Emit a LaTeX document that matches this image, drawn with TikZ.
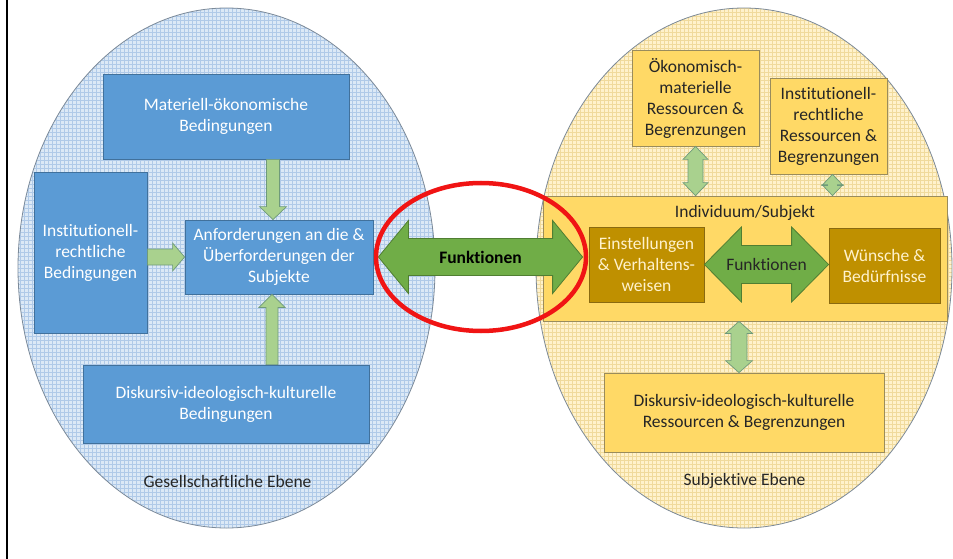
\documentclass[tikz,border=0pt]{standalone}
\usepackage{fontspec}
\setmainfont{Carlito}[Ligatures=NoCommon]
\usetikzlibrary{calc}

\definecolor{bluefill}{HTML}{5B9BD5}
\definecolor{blueline}{HTML}{41719C}
\definecolor{blueground}{HTML}{DCE9F6}
\definecolor{bluegrid}{HTML}{B0CAE8}
\definecolor{yellowfill}{HTML}{FFD966}
\definecolor{yellowline}{HTML}{9A8C5C}
\definecolor{yellowground}{HTML}{FFF2CC}
\definecolor{yellowgrid}{HTML}{F0DA9C}
\definecolor{goldfill}{HTML}{BF9000}
\definecolor{goldline}{HTML}{8A6A10}
\definecolor{greenfill}{HTML}{70AD47}
\definecolor{greenline}{HTML}{507E32}
\definecolor{palegreen}{HTML}{A9D18E}
\definecolor{palegreenline}{HTML}{6F9A7A}
\definecolor{ellline}{HTML}{7C8A99}
\definecolor{redring}{HTML}{F01414}
\definecolor{darktext}{HTML}{262626}

\newcommand\boxfont{\fontsize{17.5}{21}\selectfont}
\newcommand\blockarrow[6]{
  \coordinate (ba-t) at (#2) ;
  \coordinate (ba-h) at (#3) ;
  \coordinate (ba-c) at ($(ba-h)!#6pt!(ba-t)$) ;
  \draw[#1] ($(ba-t)!#4pt!90:(ba-h)$) -- ($(ba-c)!#4pt!90:(ba-h)$) -- ($(ba-c)!#5pt!90:(ba-h)$)
    -- (ba-h) -- ($(ba-c)!#5pt!-90:(ba-h)$) -- ($(ba-c)!#4pt!-90:(ba-h)$) -- ($(ba-t)!#4pt!-90:(ba-h)$) -- cycle ;
}
\newcommand\blockdarrow[6]{
  \coordinate (ba-t) at (#2) ;
  \coordinate (ba-h) at (#3) ;
  \coordinate (ba-c) at ($(ba-h)!#6pt!(ba-t)$) ;
  \coordinate (ba-d) at ($(ba-t)!#6pt!(ba-h)$) ;
  \draw[#1] (ba-t) -- ($(ba-d)!#5pt!90:(ba-h)$) -- ($(ba-d)!#4pt!90:(ba-h)$) -- ($(ba-c)!#4pt!90:(ba-h)$)
    -- ($(ba-c)!#5pt!90:(ba-h)$) -- (ba-h) -- ($(ba-c)!#5pt!-90:(ba-h)$) -- ($(ba-c)!#4pt!-90:(ba-h)$)
    -- ($(ba-d)!#4pt!-90:(ba-h)$) -- ($(ba-d)!#5pt!-90:(ba-h)$) -- cycle ;
}

\begin{document}
\begin{tikzpicture}[x=1pt, y=-1pt,
    bluebox/.style={draw=blueline, fill=bluefill, text=white, font=\boxfont, align=center, inner sep=0pt, line width=.8pt},
    yellowbox/.style={draw=yellowline, fill=yellowfill, text=darktext, font=\boxfont, align=center, inner sep=0pt, line width=.8pt},
    goldbox/.style={draw=goldline, fill=goldfill, text=yellowground, font=\boxfont, align=center, inner sep=0pt, line width=.8pt},
    smallarrow/.style={draw=palegreenline, fill=palegreen, line width=.7pt},
    bigarrow/.style={draw=greenline, fill=greenfill, line width=.8pt},
    levellabel/.style={text=darktext, font=\boxfont}]
    \useasboundingbox (0,0) rectangle (953,559) ;
    \draw[line width=2.5pt] (7,0) -- (7,559) ;
    \begin{scope}
      \clip (226.5,268) ellipse [x radius=208.5, y radius=260] ;
      \fill[blueground] (0,0) rectangle (480,559) ;
      \draw[bluegrid, line width=.4pt, step=4pt] (0,0) grid (480,559) ;
    \end{scope}
    \draw[ellline, line width=.8pt] (226.5,268) ellipse [x radius=208.5, y radius=260] ;
    \begin{scope}
      \clip (744,268) ellipse [x radius=208, y radius=260] ;
      \fill[yellowground] (500,0) rectangle (953,559) ;
      \draw[yellowgrid, line width=.4pt, step=4pt] (500,0) grid (953,559) ;
    \end{scope}
    \draw[ellline, line width=.8pt] (744,268) ellipse [x radius=208, y radius=260] ;

    \node[bluebox, minimum width=246, minimum height=85] (mat) at (226,116.5) {Materiell-ökonomische\\Bedingungen} ;
    \node[bluebox, minimum width=113, minimum height=161] (inst) at (90.5,252.5) {Institutionell-\\rechtliche\\Bedingungen} ;
    \node[bluebox, minimum width=188, minimum height=74] (anf) at (279,257) {Anforderungen an die \&\\Überforderungen der\\Subjekte} ;
    \node[bluebox, minimum width=286, minimum height=78] (diskl) at (226,404) {Diskursiv-ideologisch-kulturelle\\Bedingungen} ;
    \node[levellabel] (gesell) at (227.5,481) {Gesellschaftliche Ebene} ;

    \node[yellowbox, minimum width=127, minimum height=96] (oek) at (695.5,98) {Ökonomisch-\\materielle\\Ressourcen \&\\Begrenzungen} ;
    \node[yellowbox, minimum width=117, minimum height=96] (instr) at (828.5,126) {Institutionell-\\rechtliche\\Ressourcen \&\\Begrenzungen} ;
    \node[yellowbox, minimum width=404, minimum height=125] (ind) at (745,258.5) {} ;
    \node[levellabel] (indlabel) at (745,213) {Individuum/Subjekt} ;
    \node[goldbox, minimum width=115, minimum height=75] (eins) at (646.5,264.5) {Einstellungen\\\& Verhaltens-\\weisen} ;
    \node[goldbox, minimum width=111, minimum height=75] (wun) at (884.5,265.5) {Wünsche \&\\Bedürfnisse} ;
    \node[yellowbox, minimum width=280, minimum height=79] (diskr) at (744,412.5) {Diskursiv-ideologisch-kulturelle\\Ressourcen \& Begrenzungen} ;
    \node[levellabel] (subj) at (744.5,481) {Subjektive Ebene} ;

    \blockarrow{smallarrow}{$(anf.north |- mat.south)+(-6,0)$}{$(anf.north)+(-6,0)$}{6.5}{13.5}{13}
    \blockarrow{smallarrow}{inst.east |- anf.west}{anf.west}{8}{14}{12}
    \blockarrow{smallarrow}{$(anf.south |- diskl.north)+(-7,0)$}{$(anf.south)+(-7,0)$}{6}{13}{13}
    \blockdarrow{smallarrow}{oek.south}{oek.south |- ind.north}{7.5}{12.5}{13}
    \blockdarrow{smallarrow}{$(instr.south)+(4,0)$}{$(instr.south |- ind.north)+(4,0)$}{5}{10.5}{11}
    \blockdarrow{smallarrow}{$(ind.south -| diskr.north)+(-5,0)$}{$(diskr.north)+(-5,0)$}{8}{13.5}{12}

    \blockdarrow{bigarrow}{eins.east}{eins.east -| wun.west}{19}{37.5}{37}
    \node[text=darktext, font=\boxfont] (funkin) at ($(ba-t)!.5!(ba-h)$) {Funktionen} ;
    \blockdarrow{bigarrow}{$(anf.east)+(5,0)$}{$(anf.east -| eins.west)+(-6,0)$}{18.5}{36.5}{30}
    \node[text=black, font=\boxfont\bfseries] (funkout) at ($(ba-t)!.5!(ba-h)$) {Funktionen} ;

    \draw[redring, line width=4.5pt] (481,257) ellipse [x radius=105, y radius=74] ;
\end{tikzpicture}
\end{document}
